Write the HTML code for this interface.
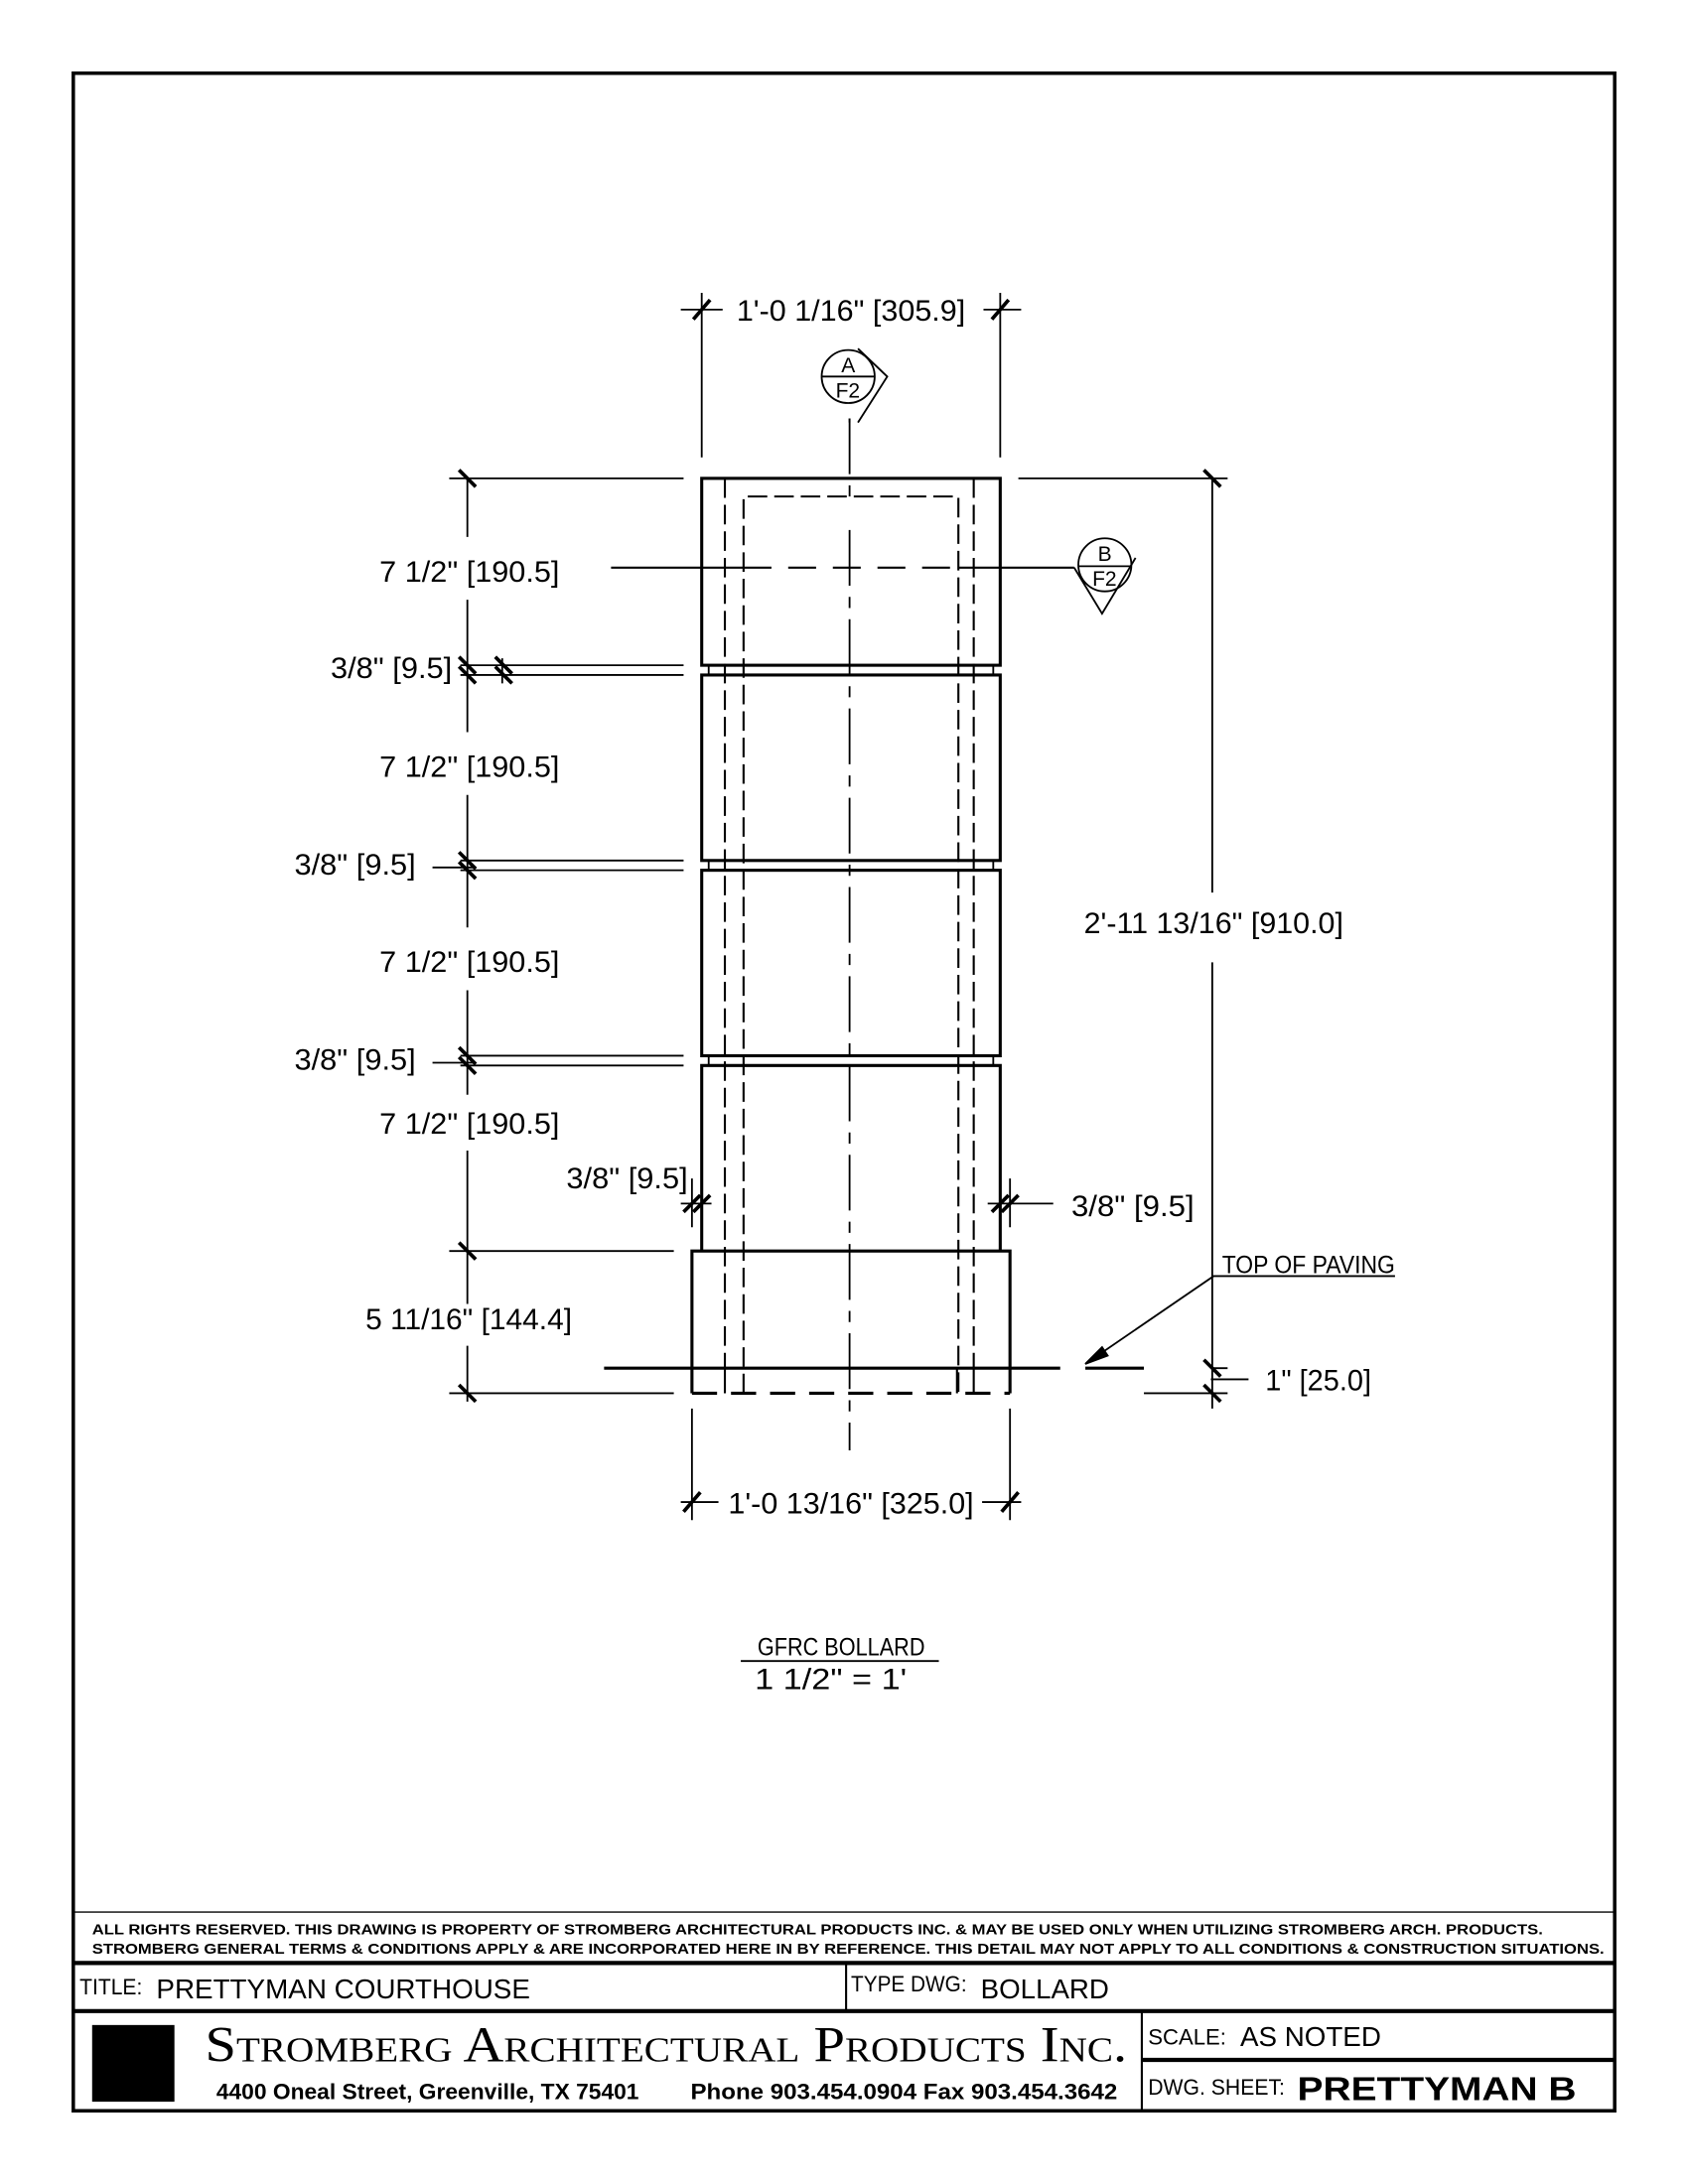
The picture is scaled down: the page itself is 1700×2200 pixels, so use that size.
<!DOCTYPE html>
<html><head><meta charset="utf-8"><style>
html,body{margin:0;padding:0;background:#fff;}
svg{display:block;}
text{font-family:"Liberation Sans",sans-serif;fill:#000;}
</style></head><body>
<svg width="1700" height="2200" viewBox="0 0 1210 1566" xmlns="http://www.w3.org/2000/svg">
<rect x="0" y="0" width="1210" height="1566" fill="#fff"/>
<rect x="52.5" y="52.5" width="1105" height="1461" fill="none" stroke="#000" stroke-width="2.5"/>

<g stroke="#000" fill="none" stroke-width="1.3">
<g stroke-width="2.2">
<rect x="503" y="343" width="214" height="134"/>
<rect x="503" y="484" width="214" height="133"/>
<rect x="503" y="624" width="214" height="133"/>
<path d="M503 897 V764 H717 V897"/>
<path d="M496 999 V897 H724 V999"/>
<path d="M433 981 H760 M778 981 H820"/>
</g>
<path d="M508 477 V484 M712 477 V484 M508 617 V624 M712 617 V624 M508 757 V764 M712 757 V764"/>
<g stroke-width="1.5" stroke-dasharray="14 5">
<path d="M519.6 343 V981 M698 343 V981"/>
<path d="M533 999 V356 H687 V999" />
</g>
<path d="M519.6 981 V999 M686 981 V999 M698 981 V999" stroke-width="1.5"/>
<path d="M496 999 H724" stroke-width="2.2" stroke-dasharray="18 10"/>
<path d="M609 300 V356 M609 380 V1040" stroke-width="1.3" stroke-dasharray="40 8 8 8"/>
<path d="M438 407 H533 M687 407 H770" stroke-width="1.5"/>
<path d="M533 407 H687" stroke-width="1.5" stroke-dasharray="20 12"/>
<circle cx="608" cy="270" r="19"/>
<path d="M589 270 H627 M615 250 L636 270 L615 303 M609 303 V300"/>
<circle cx="792" cy="405" r="19"/>
<path d="M773 406 H811 M770 407 L790 440 L814 400"/>

<path d="M503 210 V328 M717 210 V328 M488 222 H518 M705 222 H732"/>
<path d="M496 1010 V1090 M724 1010 V1090 M488 1077 H515 M704 1077 H732"/>
<path d="M335 343 V385 M335 430 V525 M335 570 V665 M335 710 V785 M335 825 V935 M335 965 V1005"/>
<path d="M322 343 H490 M330 477 H490 M330 484 H490 M360 472 V490 M330 617 H490 M310 622 H340 M330 624 H490 M330 757 H490 M310 762 H340 M330 764 H490 M322 897 H483 M322 999 H483"/>
<path d="M869 343 V640 M869 690 V1010 M730 343 H880 M868 981 H880 M820 999 H880 M868 989 H895"/>
<path d="M496 845 V880 M503 845 V880 M488 863 H510 M717 845 V880 M724 845 V880 M708 863 H755"/>
<path d="M778 978 L870 915 H1000"/>
<path d="M778 978 L790 966 L794 972 Z" fill="#000"/>
<path d="M531 1191 H673"/>
</g>
<g stroke="#000" stroke-width="2.6">
<path d="M497 229 L509 215 M711 229 L723 215 M490 1084 L502 1070 M718 1084 L730 1070"/>
<path d="M329 337 L341 349 M863 337 L875 349 M329 993 L341 1005 M863 975 L875 987 M863 993 L875 1005"/>
<path d="M329 471 L341 483 M329 478 L341 490 M355 471 L367 483 M355 478 L367 490"/>
<path d="M329 611 L341 623 M329 618 L341 630 M329 751 L341 763 M329 758 L341 770"/>
<path d="M490 869 L502 857 M497 869 L509 857 M711 869 L723 857 M718 869 L730 857"/>
<path d="M329 891 L341 903"/>
</g>

<g font-size="21">
<text x="528" y="230" textLength="164" lengthAdjust="spacingAndGlyphs">1'-0 1/16" [305.9]</text>
<text x="272" y="417" textLength="129" lengthAdjust="spacingAndGlyphs">7 1/2" [190.5]</text>
<text x="272" y="557" textLength="129" lengthAdjust="spacingAndGlyphs">7 1/2" [190.5]</text>
<text x="272" y="697" textLength="129" lengthAdjust="spacingAndGlyphs">7 1/2" [190.5]</text>
<text x="272" y="813" textLength="129" lengthAdjust="spacingAndGlyphs">7 1/2" [190.5]</text>
<text x="237" y="486" textLength="87" lengthAdjust="spacingAndGlyphs">3/8" [9.5]</text>
<text x="211" y="627" textLength="87" lengthAdjust="spacingAndGlyphs">3/8" [9.5]</text>
<text x="211" y="767" textLength="87" lengthAdjust="spacingAndGlyphs">3/8" [9.5]</text>
<text x="406" y="852" textLength="87" lengthAdjust="spacingAndGlyphs">3/8" [9.5]</text>
<text x="768" y="872" textLength="88" lengthAdjust="spacingAndGlyphs">3/8" [9.5]</text>
<text x="777" y="669" textLength="186" lengthAdjust="spacingAndGlyphs">2'-11 13/16" [910.0]</text>
<text x="262" y="953" textLength="148" lengthAdjust="spacingAndGlyphs">5 11/16" [144.4]</text>
<text x="907" y="997" textLength="76" lengthAdjust="spacingAndGlyphs">1" [25.0]</text>
<text x="522" y="1085" textLength="176" lengthAdjust="spacingAndGlyphs">1'-0 13/16" [325.0]</text>
<text x="541" y="1211" textLength="109" lengthAdjust="spacingAndGlyphs">1 1/2" = 1'</text>
</g>
<g font-size="18">
<text x="876" y="913" textLength="124" lengthAdjust="spacingAndGlyphs">TOP OF PAVING</text>
<text x="543" y="1187" textLength="120" lengthAdjust="spacingAndGlyphs">GFRC BOLLARD</text>
</g>
<g font-size="15">
<text x="603" y="267">A</text>
<text x="599" y="285">F2</text>
<text x="787" y="402">B</text>
<text x="783" y="420">F2</text>
</g>

<g stroke="#000" fill="none">
<path d="M52 1371 H1158" stroke-width="1"/>
<path d="M52 1407.5 H1158" stroke-width="3"/>
<path d="M606.5 1407 V1442" stroke-width="1.5"/>
<path d="M52 1442 H1158" stroke-width="3"/>
<path d="M818.5 1442 V1514" stroke-width="1.5"/>
<path d="M818 1477 H1158" stroke-width="3"/>
</g>
<rect x="66" y="1452" width="59" height="55" fill="#000"/>
<g font-weight="bold" font-size="10.5">
<text x="66" y="1387" textLength="1040" lengthAdjust="spacingAndGlyphs">ALL RIGHTS RESERVED. THIS DRAWING IS PROPERTY OF STROMBERG ARCHITECTURAL PRODUCTS INC. &amp; MAY BE USED ONLY WHEN UTILIZING STROMBERG ARCH. PRODUCTS.</text>
<text x="66" y="1401" textLength="1084" lengthAdjust="spacingAndGlyphs">STROMBERG GENERAL TERMS &amp; CONDITIONS APPLY &amp; ARE INCORPORATED HERE IN BY REFERENCE. THIS DETAIL MAY NOT APPLY TO ALL CONDITIONS &amp; CONSTRUCTION SITUATIONS.</text>
</g>
<text x="57" y="1430" font-size="16" textLength="45" lengthAdjust="spacingAndGlyphs">TITLE:</text>
<text x="112" y="1433" font-size="20" textLength="268" lengthAdjust="spacingAndGlyphs">PRETTYMAN COURTHOUSE</text>
<text x="610" y="1428" font-size="16" textLength="83" lengthAdjust="spacingAndGlyphs">TYPE DWG:</text>
<text x="703" y="1433" font-size="20" textLength="92" lengthAdjust="spacingAndGlyphs">BOLLARD</text>
<text x="147" y="1478" font-size="36" textLength="661" lengthAdjust="spacingAndGlyphs" style="font-family:'Liberation Serif',serif;font-variant:small-caps">Stromberg Architectural Products Inc.</text>
<text x="155" y="1505" font-size="16" font-weight="bold" textLength="303" lengthAdjust="spacingAndGlyphs">4400 Oneal Street, Greenville, TX  75401</text>
<text x="495" y="1505" font-size="16" font-weight="bold" textLength="306" lengthAdjust="spacingAndGlyphs">Phone 903.454.0904   Fax 903.454.3642</text>
<text x="823" y="1466" font-size="16" textLength="56" lengthAdjust="spacingAndGlyphs">SCALE:</text>
<text x="889" y="1467" font-size="20" textLength="101" lengthAdjust="spacingAndGlyphs">AS NOTED</text>
<text x="823" y="1502" font-size="16" textLength="98" lengthAdjust="spacingAndGlyphs">DWG. SHEET:</text>
<text x="930" y="1506" font-size="24" font-weight="bold" textLength="200" lengthAdjust="spacingAndGlyphs">PRETTYMAN B</text>
</svg>
</body></html>
